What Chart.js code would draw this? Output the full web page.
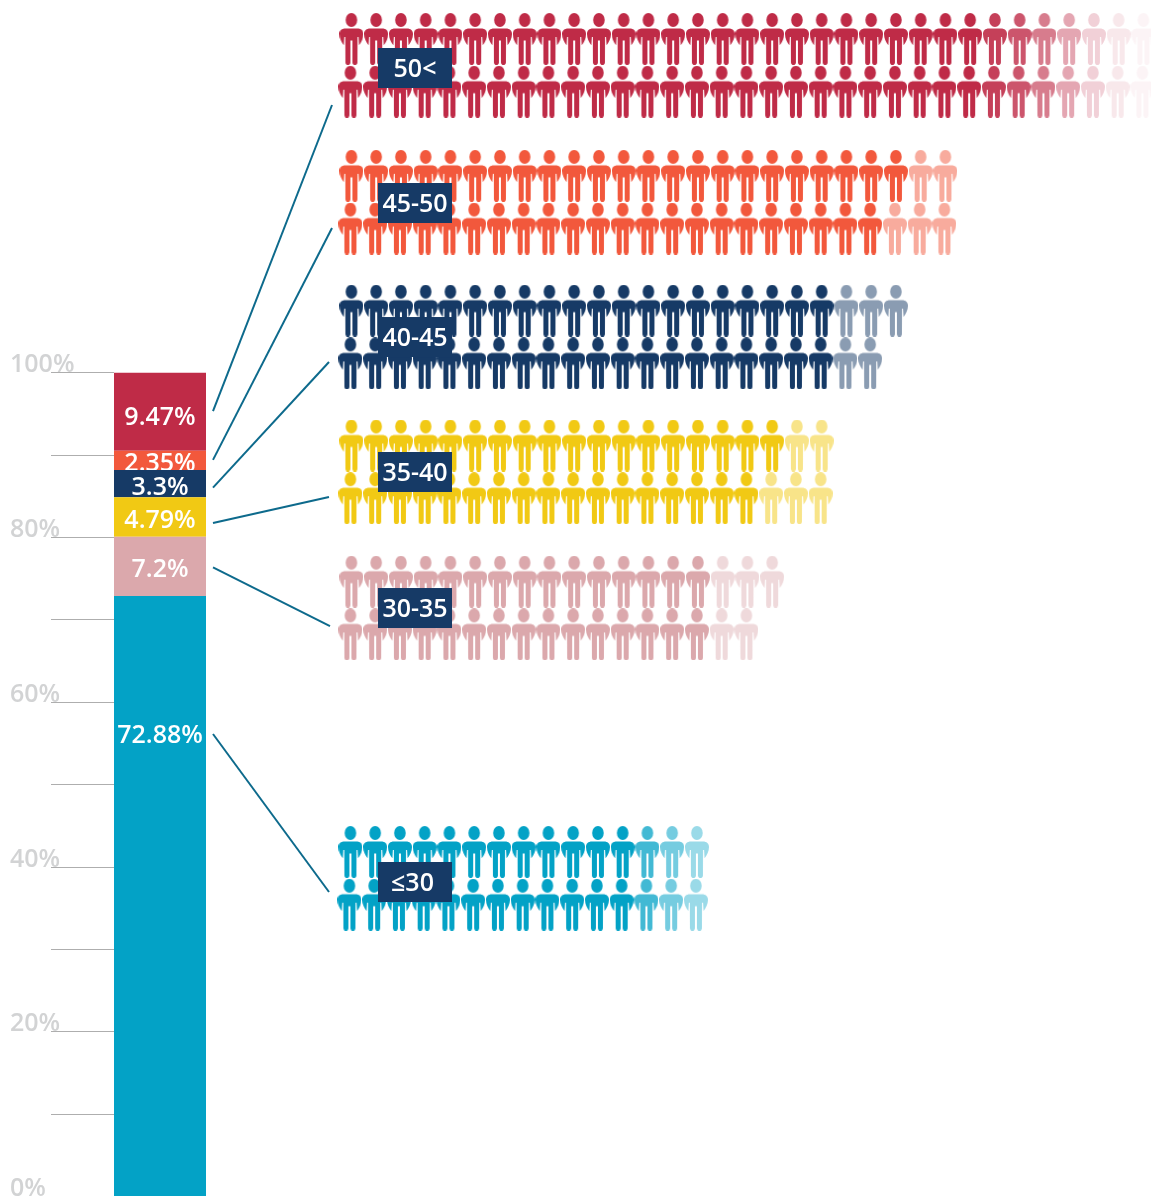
<!DOCTYPE html>
<html><head><meta charset="utf-8">
<style>html,body{margin:0;padding:0;background:#fff;overflow:hidden}#wrap{position:relative;width:1151px;height:1196px}</style>
<script src="https://cdn.jsdelivr.net/npm/chart.js@4"></script>
</head><body><div id="wrap"><canvas id="c" width="1151" height="1196"></canvas></div>
<script>
// ---- data (bottom segment first) ----
const ageGroups = ['≤30', '30-35', '35-40', '40-45', '45-50', '50<'];
const shares = [72.88, 7.2, 4.79, 3.3, 2.35, 9.47];
const shareLabels = ['72.88%', '7.2%', '4.79%', '3.3%', '2.35%', '9.47%'];
const tickValues = [0,10,20,30,40,50,60,70,80,90,100];
const peopleTopRow = [15, 18, 20, 23, 25, 33];
const peopleBottomRow = [15, 17, 20, 22, 25, 33];
const tailTop = [[.75,.55,.4],[.44,.44,.44],[.5,.5],[.5,.5,.5],[.5,.5],[.9,.8,.62,.42,.22,.11,.05]];
const tailBottom = [[.75,.55,.4],[.44,.44],[.5,.5,.5],[.5,.5],[.5,.5,.5],[.9,.8,.62,.42,.22,.11,.05]];
const groupSlots = [6, 4.005, 3, 2.005, 1.01, 0];
const colors = ['#03a2c6', '#dba8ac', '#f1c914', '#163a66', '#f2583c', '#bf2b47'];

// ---- style / layout ----
const FONT = '600 25px "Open Sans"';
const SHARE_PX = 8.24, H = 1196, W = 1151, SHARE_AT_BOTTOM = 0.073;
const PITCH = 24.75, HEAD0 = 351.4, SLOT_PX = 135.5, ROW_PX = 52.7, FIRST_CY = 39;
const labelAnchor = [56.2, null, null, null, null, null];
const labelNudge = [2, 3.5, 3.5, 4.5, 3, 6];
const boxNudge = [0.65, -3, -2.85, -3, -2.2, -0.35];
const boxTextNudge = 2;
const boxTextDx = [-2.5, 0, 0, 0, 0, 0];
const leaderStartNudge = [0, 1, 6, 4, -0.5, -0.5];
const leaderEndOffset = [10, 18, 25, 25, 25, 37];
const leaderEndX = [329, 330, 329, 329, 332, 332];

function personPath(c){
  c.beginPath();
  c.ellipse(12, 7, 5.8, 7, 0, 0, Math.PI*2);
  c.closePath();
  c.moveTo(6, 15.4);
  c.lineTo(18, 15.4);
  c.bezierCurveTo(21.8, 15.4, 24, 17.5, 24, 21);
  c.bezierCurveTo(24, 25.5, 21.8, 29.5, 19.6, 32.2);
  c.lineTo(19.1, 24);
  c.lineTo(18.1, 24);
  c.lineTo(18, 49.6);
  c.arc(15.5, 49.6, 2.5, 0, Math.PI);
  c.lineTo(13, 27.5);
  c.lineTo(11, 27.5);
  c.lineTo(11, 49.6);
  c.arc(8.5, 49.6, 2.5, 0, Math.PI);
  c.lineTo(5.9, 24);
  c.lineTo(4.9, 24);
  c.lineTo(4.4, 32.2);
  c.bezierCurveTo(2.2, 29.5, 0, 25.5, 0, 21);
  c.bezierCurveTo(0, 17.5, 2.2, 15.4, 6, 15.4);
  c.closePath();
}
const sprites = {};
function sprite(color, alpha){
  const k = color + alpha;
  if (sprites[k]) return sprites[k];
  const s = document.createElement('canvas');
  s.width = 24; s.height = 52;
  const c = s.getContext('2d');
  c.globalAlpha = alpha; c.fillStyle = color;
  personPath(c); c.fill();
  return sprites[k] = s;
}
function rowPoints(count, tail, rowIdx, g){
  const pts = [];
  const stagger = (rowIdx ? -0.04 : 0) + (g === 0 ? -0.04 : 0);
  for (let i = 0; i < count; i++){
    const fromEnd = count - i;
    const a = fromEnd <= tail.length ? tail[tail.length - fromEnd] : 1;
    pts.push({x: i + stagger, y: groupSlots[g] + rowIdx * ROW_PX / SLOT_PX, a});
  }
  return pts;
}
const barSets = ageGroups.map((g, i) => ({
  type: 'bar', label: g, data: [{x: 0, y: shares[i]}],
  backgroundColor: colors[i], xAxisID: 'xBar', yAxisID: 'y',
  grouped: false, barPercentage: 2, categoryPercentage: 1, maxBarThickness: 92, borderWidth: 0, stack: 'age'
}));
const peopleSets = ageGroups.map((g, i) => ({
  type: 'scatter', label: g + ' people',
  data: rowPoints(peopleTopRow[i], tailTop[i], 0, i).concat(rowPoints(peopleBottomRow[i], tailBottom[i], 1, i)),
  xAxisID: 'xP', yAxisID: 'yP', showLine: false, pointRadius: 12, pointHoverRadius: 12,
  pointStyle: ctx => sprite(colors[i], ctx.raw ? ctx.raw.a : 1)
}));
function boxCenter(chart, g){
  return chart.scales.yP.getPixelForValue(groupSlots[g]) + ROW_PX / 2 + 3;
}
function barTopBottom(chart, i){
  let b = 0; for (let k = 0; k < i; k++) b += shares[k];
  return [chart.scales.y.getPixelForValue(b + shares[i]), chart.scales.y.getPixelForValue(b)];
}
function shareLabelY(chart, i){
  const [t, bt] = barTopBottom(chart, i);
  const base = labelAnchor[i] !== null ? chart.scales.y.getPixelForValue(labelAnchor[i]) : (t + bt) / 2;
  return base + labelNudge[i];
}
const overlay = {
  id: 'overlay',
  afterDatasetDraw(chart, args){
    if (args.index >= ageGroups.length) return;
    const c = chart.ctx, el = args.meta.data[0];
    c.save(); c.font = FONT; c.fillStyle = '#fff'; c.textAlign = 'center'; c.textBaseline = 'middle';
    c.fillText(shareLabels[args.index], el.x, shareLabelY(chart, args.index));
    c.restore();
  },
  afterDatasetsDraw(chart){
    const c = chart.ctx, xP = chart.scales.xP, xBar = chart.scales.xBar;
    const boxL = xP.getPixelForValue(0) + 26.6, boxW = 74, boxH = 40;
    const startX = xBar.getPixelForValue(0) + 53;
    c.save();
    ageGroups.forEach((g, i) => {
      const cy = boxCenter(chart, i) + boxNudge[i];
      c.strokeStyle = '#0d6a8c'; c.lineWidth = 2;
      const [t, b] = barTopBottom(chart, i);
      const sy = i === 0 ? shareLabelY(chart, 0) - 1.5 : (t + b) / 2 + leaderStartNudge[i];
      c.beginPath(); c.moveTo(startX, sy); c.lineTo(leaderEndX[i], cy + leaderEndOffset[i]); c.stroke();
      c.fillStyle = colors[3];
      c.fillRect(boxL, cy - boxH / 2, boxW, boxH);
      c.font = FONT; c.fillStyle = '#fff'; c.textAlign = 'center'; c.textBaseline = 'middle';
      c.fillText(g, boxL + boxW / 2 + boxTextDx[i], cy + boxTextNudge);
    });
    c.restore();
  }
};
const areaLeft = 114;
new Chart(document.getElementById('c'), {
  type: 'bar',
  data: { datasets: barSets.concat(peopleSets) },
  plugins: [overlay],
  options: {
    responsive: false, animation: false, events: [],
    layout: { autoPadding: false, padding: { left: 10, right: 0, top: 0, bottom: 0 } },
    plugins: { legend: { display: false }, tooltip: { enabled: false }, title: { display: false } },
    scales: {
      xBar: { type: 'linear', axis: 'x', position: 'bottom', display: false, offset: false, stacked: true,
              min: areaLeft - 160, max: W - 160 },
      y: { type: 'linear', position: 'left', stacked: true, min: SHARE_AT_BOTTOM, max: SHARE_AT_BOTTOM + H / SHARE_PX,
           afterFit(s){ s.width = areaLeft - 10; s.paddingTop = 0; s.paddingBottom = 0; },
           afterBuildTicks(s){ s.ticks = tickValues.map(v => ({value: v})); },
           border: { display: false },
           grid: { drawOnChartArea: false, drawTicks: true, tickLength: 63, tickColor: '#aeaeae', lineWidth: 1 },
           ticks: { autoSkip: false, padding: 0, crossAlign: 'far', labelOffset: -7.5, color: '#d2d3d4',
                    font: { family: '"Open Sans"', size: 25, weight: '600' },
                    callback: v => v % 20 === 0 ? v + '%' : '' } },
      xP: { type: 'linear', axis: 'x', position: 'top', display: false, offset: false,
            min: (areaLeft - HEAD0) / PITCH, max: (W - HEAD0) / PITCH },
      yP: { type: 'linear', axis: 'y', position: 'right', display: false, reverse: true,
            min: -FIRST_CY / SLOT_PX, max: (H - FIRST_CY) / SLOT_PX }
    }
  }
});
</script></body></html>
